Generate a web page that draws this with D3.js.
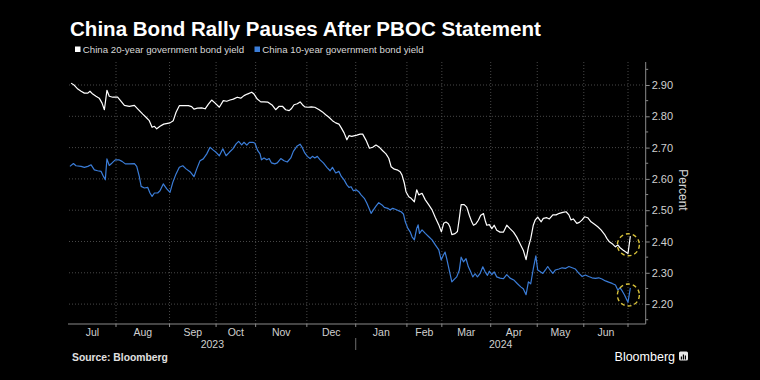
<!DOCTYPE html>
<html><head><meta charset="utf-8">
<script src="https://cdn.jsdelivr.net/npm/d3@7"></script>
<style>html,body{margin:0;padding:0;background:#000;} svg{display:block;}</style>
</head><body>
<svg id="chart" width="760" height="380"></svg>
<script>
// ---------- data ----------
const monthLabels = ["Jul","Aug","Sep","Oct","Nov","Dec","Jan","Feb","Mar","Apr","May","Jun"];
// China trading days per month (Jul 2023 .. Jun 2024) -> x axis runs on trading days
const tradingDaysPerMonth = [21,23,20,17,22,21,22,15,21,20,20,19];
const yearLabels = ["2023","2024"];
const monthsPerYear = [6,6];
const yTicks = [2.2,2.3,2.4,2.5,2.6,2.7,2.8,2.9];
const seriesNames = ["China 20-year government bond yield","China 10-year government bond yield"];
const titleText = "China Bond Rally Pauses After PBOC Statement";
const sourceText = "Source: Bloomberg";

// [trading-day index from 3 Jul 2023, yield %]
const yield20 = [[1.7,2.906],[3.1,2.899],[4.6,2.887],[6.0,2.880],[7.4,2.874],[8.9,2.874],[9.8,2.880],[11.0,2.871],[12.4,2.864],[13.8,2.858],[15.0,2.842],[16.0,2.821],[17.1,2.883],[18.1,2.864],[19.6,2.861],[21.7,2.861],[23.2,2.848],[24.6,2.835],[26.7,2.832],[28.9,2.835],[30.3,2.824],[32.5,2.807],[33.9,2.797],[35.3,2.786],[36.5,2.765],[37.5,2.768],[38.5,2.760],[39.9,2.768],[41.5,2.775],[44.2,2.779],[45.6,2.786],[46.8,2.813],[48.2,2.834],[49.9,2.834],[52.1,2.834],[53.5,2.831],[54.5,2.823],[56.0,2.826],[57.8,2.827],[59.3,2.824],[60.7,2.839],[62.1,2.852],[63.6,2.842],[65.4,2.829],[67.1,2.850],[68.6,2.848],[70.0,2.852],[71.4,2.855],[73.1,2.861],[74.6,2.858],[76.0,2.866],[77.4,2.871],[79.3,2.877],[80.3,2.871],[81.7,2.855],[83.2,2.846],[84.6,2.846],[86.3,2.845],[88.2,2.835],[89.6,2.821],[91.1,2.832],[92.5,2.832],[93.9,2.821],[95.4,2.818],[96.3,2.824],[97.5,2.837],[98.9,2.840],[100.1,2.846],[101.1,2.837],[102.1,2.830],[103.5,2.829],[104.9,2.830],[106.4,2.829],[108.3,2.821],[109.7,2.814],[111.1,2.805],[112.5,2.797],[114.0,2.786],[115.4,2.779],[116.8,2.775],[117.8,2.763],[119.0,2.747],[120.2,2.725],[121.1,2.738],[122.3,2.736],[124.5,2.740],[125.9,2.743],[127.0,2.743],[128.4,2.724],[129.9,2.698],[131.3,2.701],[132.7,2.708],[134.2,2.701],[135.6,2.690],[137.0,2.680],[138.2,2.666],[139.2,2.639],[140.6,2.631],[142.1,2.628],[143.1,2.623],[143.9,2.612],[144.9,2.586],[145.6,2.559],[146.8,2.543],[147.8,2.538],[149.2,2.527],[150.2,2.565],[151.1,2.549],[152.5,2.554],[153.9,2.533],[155.4,2.517],[156.8,2.501],[158.2,2.477],[159.7,2.453],[160.8,2.431],[161.8,2.458],[162.8,2.462],[163.8,2.457],[164.5,2.446],[165.3,2.422],[166.7,2.425],[167.7,2.432],[168.5,2.473],[169.3,2.518],[170.6,2.518],[171.7,2.510],[172.8,2.484],[173.9,2.462],[174.6,2.452],[175.7,2.457],[176.7,2.468],[177.7,2.484],[178.9,2.489],[179.6,2.468],[180.3,2.452],[181.4,2.454],[182.5,2.441],[183.5,2.452],[184.6,2.436],[186.0,2.430],[187.5,2.430],[188.9,2.452],[190.3,2.441],[191.8,2.430],[193.2,2.414],[194.6,2.393],[196.0,2.372],[197.2,2.342],[198.2,2.382],[199.2,2.409],[200.3,2.452],[201.1,2.468],[202.2,2.478],[203.7,2.463],[204.6,2.474],[206.1,2.476],[207.2,2.472],[208.7,2.485],[210.1,2.485],[211.5,2.490],[213.0,2.493],[214.4,2.495],[215.6,2.485],[216.5,2.469],[217.5,2.472],[219.0,2.458],[220.1,2.461],[221.3,2.469],[222.3,2.479],[223.7,2.476],[225.1,2.463],[226.6,2.455],[228.0,2.447],[229.4,2.437],[230.9,2.423],[231.9,2.410],[233.0,2.399],[234.5,2.391],[235.6,2.383],[236.6,2.389],[237.6,2.380],[238.8,2.373],[239.9,2.367],[241.0,2.362],[242.0,2.417]];

const yield10 = [[1.2,2.640],[2.7,2.649],[3.8,2.642],[6.0,2.640],[7.4,2.637],[8.9,2.640],[10.3,2.645],[11.7,2.629],[13.1,2.626],[14.6,2.624],[15.6,2.608],[16.4,2.597],[17.1,2.664],[18.1,2.643],[19.3,2.651],[20.7,2.661],[22.2,2.661],[23.6,2.656],[25.0,2.648],[26.7,2.648],[28.9,2.649],[29.9,2.640],[31.0,2.608],[31.8,2.576],[33.2,2.571],[34.6,2.573],[35.6,2.555],[36.5,2.544],[37.5,2.555],[38.9,2.555],[39.9,2.562],[41.3,2.584],[42.8,2.568],[44.2,2.557],[45.4,2.589],[46.8,2.616],[48.2,2.637],[49.7,2.642],[51.1,2.632],[52.8,2.623],[54.5,2.607],[55.7,2.632],[57.1,2.658],[58.5,2.664],[60.0,2.680],[61.4,2.701],[62.8,2.692],[64.0,2.685],[65.4,2.674],[66.9,2.696],[68.3,2.674],[69.7,2.685],[71.2,2.696],[72.6,2.712],[73.7,2.720],[75.0,2.709],[76.0,2.717],[77.2,2.708],[78.3,2.717],[79.8,2.717],[80.7,2.714],[81.9,2.690],[82.9,2.680],[83.5,2.661],[84.6,2.667],[85.8,2.661],[86.8,2.665],[87.8,2.651],[89.2,2.648],[90.3,2.651],[91.8,2.665],[93.2,2.658],[94.6,2.654],[96.1,2.667],[97.2,2.688],[98.7,2.704],[100.1,2.711],[101.1,2.699],[102.1,2.683],[103.2,2.672],[104.4,2.665],[105.4,2.672],[106.4,2.667],[107.5,2.672],[108.7,2.661],[110.1,2.651],[111.6,2.637],[113.0,2.626],[114.0,2.637],[115.4,2.619],[116.8,2.624],[117.8,2.608],[119.0,2.597],[120.2,2.581],[121.1,2.573],[122.0,2.575],[123.0,2.562],[124.2,2.565],[125.3,2.559],[126.3,2.549],[127.7,2.538],[128.8,2.522],[129.9,2.503],[130.6,2.490],[131.6,2.501],[132.7,2.513],[133.9,2.524],[135.3,2.517],[136.3,2.509],[137.8,2.506],[138.8,2.501],[139.9,2.506],[141.0,2.503],[142.5,2.498],[143.5,2.495],[144.5,2.488],[145.3,2.463],[146.4,2.442],[147.4,2.431],[148.2,2.415],[149.2,2.405],[150.2,2.442],[150.8,2.453],[151.4,2.426],[152.5,2.437],[153.9,2.426],[155.4,2.415],[156.8,2.405],[158.2,2.389],[159.7,2.373],[160.7,2.341],[161.7,2.357],[162.4,2.366],[163.1,2.345],[164.2,2.308],[165.3,2.271],[166.3,2.279],[167.4,2.287],[168.5,2.308],[169.3,2.350],[170.3,2.335],[171.4,2.345],[172.4,2.319],[173.4,2.303],[174.3,2.287],[175.3,2.297],[176.3,2.287],[177.4,2.297],[178.6,2.319],[179.6,2.303],[180.6,2.292],[181.4,2.305],[182.5,2.294],[183.5,2.303],[184.6,2.287],[186.0,2.283],[187.5,2.281],[188.9,2.294],[190.3,2.283],[192.1,2.276],[193.5,2.265],[194.9,2.255],[196.0,2.249],[197.2,2.230],[198.2,2.271],[199.2,2.265],[200.3,2.313],[201.4,2.354],[202.2,2.309],[203.2,2.304],[204.4,2.298],[205.5,2.309],[206.5,2.320],[207.5,2.309],[208.7,2.298],[209.8,2.309],[211.3,2.312],[212.7,2.316],[214.1,2.314],[215.6,2.320],[217.0,2.316],[218.4,2.312],[219.9,2.298],[221.3,2.288],[222.7,2.293],[224.1,2.288],[225.5,2.284],[227.0,2.282],[228.4,2.284],[229.8,2.280],[231.3,2.274],[232.7,2.270],[234.2,2.266],[235.6,2.261],[236.6,2.245],[237.6,2.252],[238.5,2.242],[239.5,2.229],[240.5,2.213],[241.0,2.206],[242.0,2.252]];

// ---------- layout ----------
const L = 69, R = 645.7, T = 62, B = 324;
const FONT = "'Liberation Sans', Arial, sans-serif";
const svg = d3.select("#chart");
svg.append("rect").attr("width",760).attr("height",380).attr("fill","#000");

const x = d3.scaleLinear().domain([0.8, 248.6]).range([L, R]);
const y = d3.scaleLinear().domain([2.1364, 2.9735]).range([B, T]);

const bounds = [0, ...d3.cumsum(tradingDaysPerMonth)];

function fitText(sel, width){
  const w = sel.node().getComputedTextLength();
  const fs = parseFloat(sel.attr("font-size"));
  sel.attr("font-size", fs * width / w);
}

// title
const title = svg.append("text").attr("x",70).attr("y",35.5)
  .attr("fill","#fff").attr("font-family",FONT).attr("font-weight","bold")
  .attr("font-size",20).text(titleText);
fitText(title, 471);

// legend
const legendColors = ["#ffffff","#3b7dd8"];
const legendX = [75, 254.5];
seriesNames.forEach((n,i)=>{
  svg.append("rect").attr("x",legendX[i]).attr("y",46.5).attr("width",5.5).attr("height",5.5).attr("fill",legendColors[i]);
  const t = svg.append("text").attr("x",legendX[i]+7.8).attr("y",53)
    .attr("fill","#d8d8d8").attr("font-family",FONT).attr("font-size",10).text(n);
  fitText(t, 161.5);
});

// horizontal grid
svg.append("g").selectAll("line").data(yTicks).join("line")
  .attr("x1",L).attr("x2",R).attr("y1",d=>y(d)).attr("y2",d=>y(d))
  .attr("stroke","#5a5a5a").attr("stroke-width",0.8).attr("stroke-dasharray","1,2");

// vertical grid at month boundaries
svg.append("g").selectAll("line").data(bounds.slice(1)).join("line")
  .attr("x1",d=>x(d)).attr("x2",d=>x(d)).attr("y1",T).attr("y2",B)
  .attr("stroke","#5a5a5a").attr("stroke-width",0.8).attr("stroke-dasharray","1,2");

// x axis
svg.append("line").attr("x1",L-1).attr("x2",R).attr("y1",B).attr("y2",B).attr("stroke","#8a8a8a").attr("stroke-width",1);
svg.append("g").selectAll("line").data(bounds.slice(1)).join("line")
  .attr("x1",d=>x(d)).attr("x2",d=>x(d)).attr("y1",B).attr("y2",B+3)
  .attr("stroke","#8a8a8a").attr("stroke-width",1);
svg.append("g").selectAll("text").data(monthLabels).join("text")
  .attr("x",(d,i)=>(Math.max(L,x(bounds[i]))+x(bounds[i+1]))/2)
  .attr("y",336).attr("text-anchor","middle")
  .attr("fill","#d0d0d0").attr("font-family",FONT).attr("font-size",10.5).text(d=>d);
let mIdx = 0;
yearLabels.forEach((yl,i)=>{
  const a = Math.max(L, x(bounds[mIdx])), b = Math.min(R, x(bounds[mIdx+monthsPerYear[i]]));
  const bEnd = i===yearLabels.length-1 ? R : b;
  svg.append("text").attr("x",(a+bEnd)/2).attr("y",348).attr("text-anchor","middle")
    .attr("fill","#d0d0d0").attr("font-family",FONT).attr("font-size",10.5).text(yl);
  mIdx += monthsPerYear[i];
  if(i<yearLabels.length-1){
    svg.append("line").attr("x1",x(bounds[mIdx])).attr("x2",x(bounds[mIdx])).attr("y1",338).attr("y2",350)
      .attr("stroke","#8a8a8a").attr("stroke-width",0.8);
  }
});

// y axis (right)
const yAxis = d3.axisRight(y).tickValues(yTicks).tickSize(4).tickFormat(d3.format(".2f"));
const ga = svg.append("g").attr("transform",`translate(${R},0)`).call(yAxis);
ga.select(".domain").attr("stroke","#8a8a8a").attr("d",`M0,${T}V${B}`);
ga.selectAll(".tick line").attr("stroke","#8a8a8a");
ga.selectAll(".tick text").attr("fill","#d0d0d0").attr("font-family",FONT).attr("font-size",11).attr("x",6);
const minor = d3.range(2.15, 2.96, 0.1);
ga.append("g").selectAll("line").data(minor).join("line")
  .attr("x1",0).attr("x2",2.5).attr("y1",d=>y(d)).attr("y2",d=>y(d)).attr("stroke","#8a8a8a");
svg.append("text").attr("transform",`translate(679,${(T+B)/2-3}) rotate(90)`)
  .attr("text-anchor","middle").attr("fill","#d8d8d8").attr("font-family",FONT).attr("font-size",12).text("Percent");

// lines
const line = d3.line().x(d=>x(d[0])).y(d=>y(d[1]));
svg.append("path").datum(yield20).attr("d",line).attr("fill","none").attr("stroke","#ffffff").attr("stroke-width",1.2).attr("stroke-linejoin","round");
svg.append("path").datum(yield10).attr("d",line).attr("fill","none").attr("stroke","#3b7dd8").attr("stroke-width",1.2).attr("stroke-linejoin","round");

// highlight circles around last move
[yield20, yield10].forEach(s=>{
  const a = s[s.length-2], b = s[s.length-1];
  svg.append("circle").attr("cx",(x(a[0])+x(b[0]))/2 - 0.8).attr("cy",(y(a[1])+y(b[1]))/2)
    .attr("r",11).attr("fill","none").attr("stroke","#d8c23a").attr("stroke-width",1.4)
    .attr("stroke-dasharray","4,3");
});

// footer
const src = svg.append("text").attr("x",72).attr("y",361).attr("fill","#e0e0e0")
  .attr("font-family",FONT).attr("font-weight","bold").attr("font-size",9.5).text(sourceText);
fitText(src, 96);
const bb = svg.append("text").attr("x",675).attr("y",361).attr("text-anchor","end").attr("fill","#ffffff")
  .attr("font-family",FONT).attr("font-size",12.5).text("Bloomberg");
const icon = svg.append("g").attr("transform","translate(679,351.5)");
icon.append("rect").attr("width",9).attr("height",9).attr("rx",1.5).attr("fill","#e8e8e8");
icon.selectAll("rect.b").data([3,5,4]).join("rect").attr("class","b")
  .attr("x",(d,i)=>1.8+i*2).attr("y",d=>8-d).attr("width",1.2).attr("height",d=>d).attr("fill","#000");
</script>
</body></html>
